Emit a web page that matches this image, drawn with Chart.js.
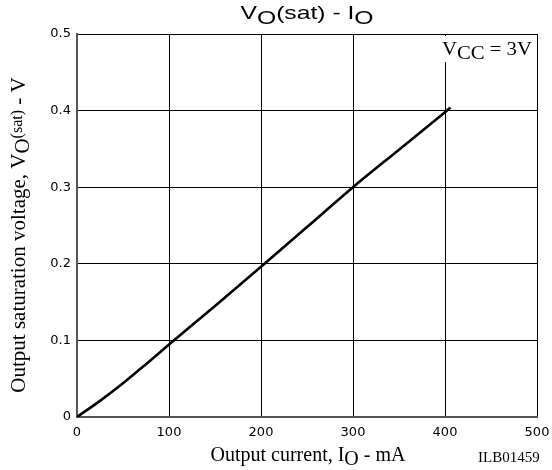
<!DOCTYPE html>
<html>
<head>
<meta charset="utf-8">
<script src="https://cdn.jsdelivr.net/npm/chart.js@4"></script>
<style>
  html, body { margin: 0; padding: 0; background: #fff; }
  #wrap { width: 552px; height: 470px; }
</style>
</head>
<body>
<div id="wrap"><canvas id="satChart" width="552" height="470"></canvas></div>
<script>
// output current (mA) and saturation voltage (V)
const currentMA = [0, 25, 50, 75, 100, 150, 200, 250, 300, 350, 400, 406];
const satVolts  = [0, 0.021, 0.044, 0.069, 0.0946, 0.145, 0.196, 0.248, 0.300, 0.349, 0.398, 0.404];
const xTicks = [0, 100, 200, 300, 400, 500];
const yTicks = [0, 0.1, 0.2, 0.3, 0.4, 0.5];

const sans = '"Liberation Sans", Arial, sans-serif';
const serif = '"Liberation Serif", "Times New Roman", serif';
const tickFont = '"DejaVu Sans", sans-serif';

// draws text pieces with sub/superscript offsets, sx = horizontal stretch
function drawRich(ctx, parts, x, y, align, sx) {
    sx = sx || 1;
    let total = 0;
    parts.forEach(p => { ctx.font = p.font; total += ctx.measureText(p.t).width; });
    ctx.save();
    ctx.translate(align === 'center' ? x - total * sx / 2 : x, y);
    ctx.scale(sx, 1);
    let cx = 0;
    parts.forEach(p => {
        ctx.font = p.font;
        ctx.fillText(p.t, cx, p.dy || 0);
        cx += ctx.measureText(p.t).width;
    });
    ctx.restore();
}

const labelsPlugin = {
    id: 'labels',
    afterDraw(chart) {
        const ctx = chart.ctx;
        const area = chart.chartArea;
        ctx.save();

        // white box behind the supply note
        ctx.fillStyle = '#fff';
        ctx.fillRect(438, area.top + 2, area.right - 440, 60 - area.top);

        ctx.fillStyle = '#000';
        ctx.textBaseline = 'alphabetic';
        ctx.textAlign = 'left';

        // title
        drawRich(ctx, [
            { t: 'V', font: '19px ' + sans },
            { t: 'O', font: '19px ' + sans, dy: 4.5 },
            { t: '(sat) - I', font: '19px ' + sans },
            { t: 'O', font: '19px ' + sans, dy: 4.5 }
        ], 307, 19, 'center', 1.3);

        // x axis title
        drawRich(ctx, [
            { t: 'Output current, I', font: '20px ' + serif },
            { t: 'O', font: '20px ' + serif, dy: 4 },
            { t: ' - mA', font: '20px ' + serif }
        ], 308, 461, 'center');

        // figure id
        drawRich(ctx, [{ t: 'ILB01459', font: '15px ' + serif }], 478, 462, 'left');

        // supply note
        drawRich(ctx, [
            { t: 'V', font: '18px ' + serif },
            { t: 'CC', font: '18px ' + serif, dy: 4 },
            { t: ' = 3V', font: '18px ' + serif }
        ], 442, 55, 'left', 1.15);

        // y axis title, rotated
        ctx.translate(25, 235);
        ctx.rotate(-Math.PI / 2);
        drawRich(ctx, [
            { t: 'Output saturation voltage, V', font: '21px ' + serif },
            { t: 'O', font: '21px ' + serif, dy: 4 },
            { t: '(sat)', font: '16px ' + serif, dy: -3 },
            { t: ' - V', font: '21px ' + serif }
        ], 0, 0, 'center');
        ctx.restore();
    }
};

new Chart(document.getElementById('satChart').getContext('2d'), {
    type: 'line',
    data: {
        datasets: [{
            data: currentMA.map((c, i) => ({ x: c, y: satVolts[i] })),
            borderColor: '#000',
            borderWidth: 2.6,
            pointRadius: 0,
            cubicInterpolationMode: 'monotone',
            fill: false
        }]
    },
    options: {
        responsive: false,
        animation: false,
        layout: { padding: { top: 34, right: 15, left: 0, bottom: 0 } },
        plugins: { legend: { display: false }, tooltip: { enabled: false } },
        scales: {
            x: {
                type: 'linear',
                min: 0,
                max: 500,
                afterBuildTicks: s => { s.ticks = xTicks.map(v => ({ value: v })); },
                afterFit: s => { s.height = 53; s.paddingLeft = 0; s.paddingRight = 0; },
                grid: { color: '#000', lineWidth: 1, drawTicks: false },
                border: { color: '#555', width: 2 },
                ticks: { color: '#000', font: { family: tickFont, size: 13 }, padding: 8, maxRotation: 0 }
            },
            y: {
                min: 0,
                max: 0.5,
                afterBuildTicks: s => { s.ticks = yTicks.map(v => ({ value: v })); },
                afterFit: s => { s.width = 77; s.paddingTop = 0; s.paddingBottom = 0; },
                grid: { color: '#000', lineWidth: 1, drawTicks: false },
                border: { color: '#555', width: 2 },
                ticks: { color: '#000', font: { family: tickFont, size: 13 }, padding: 6 }
            }
        }
    },
    plugins: [labelsPlugin]
});
</script>
</body>
</html>
